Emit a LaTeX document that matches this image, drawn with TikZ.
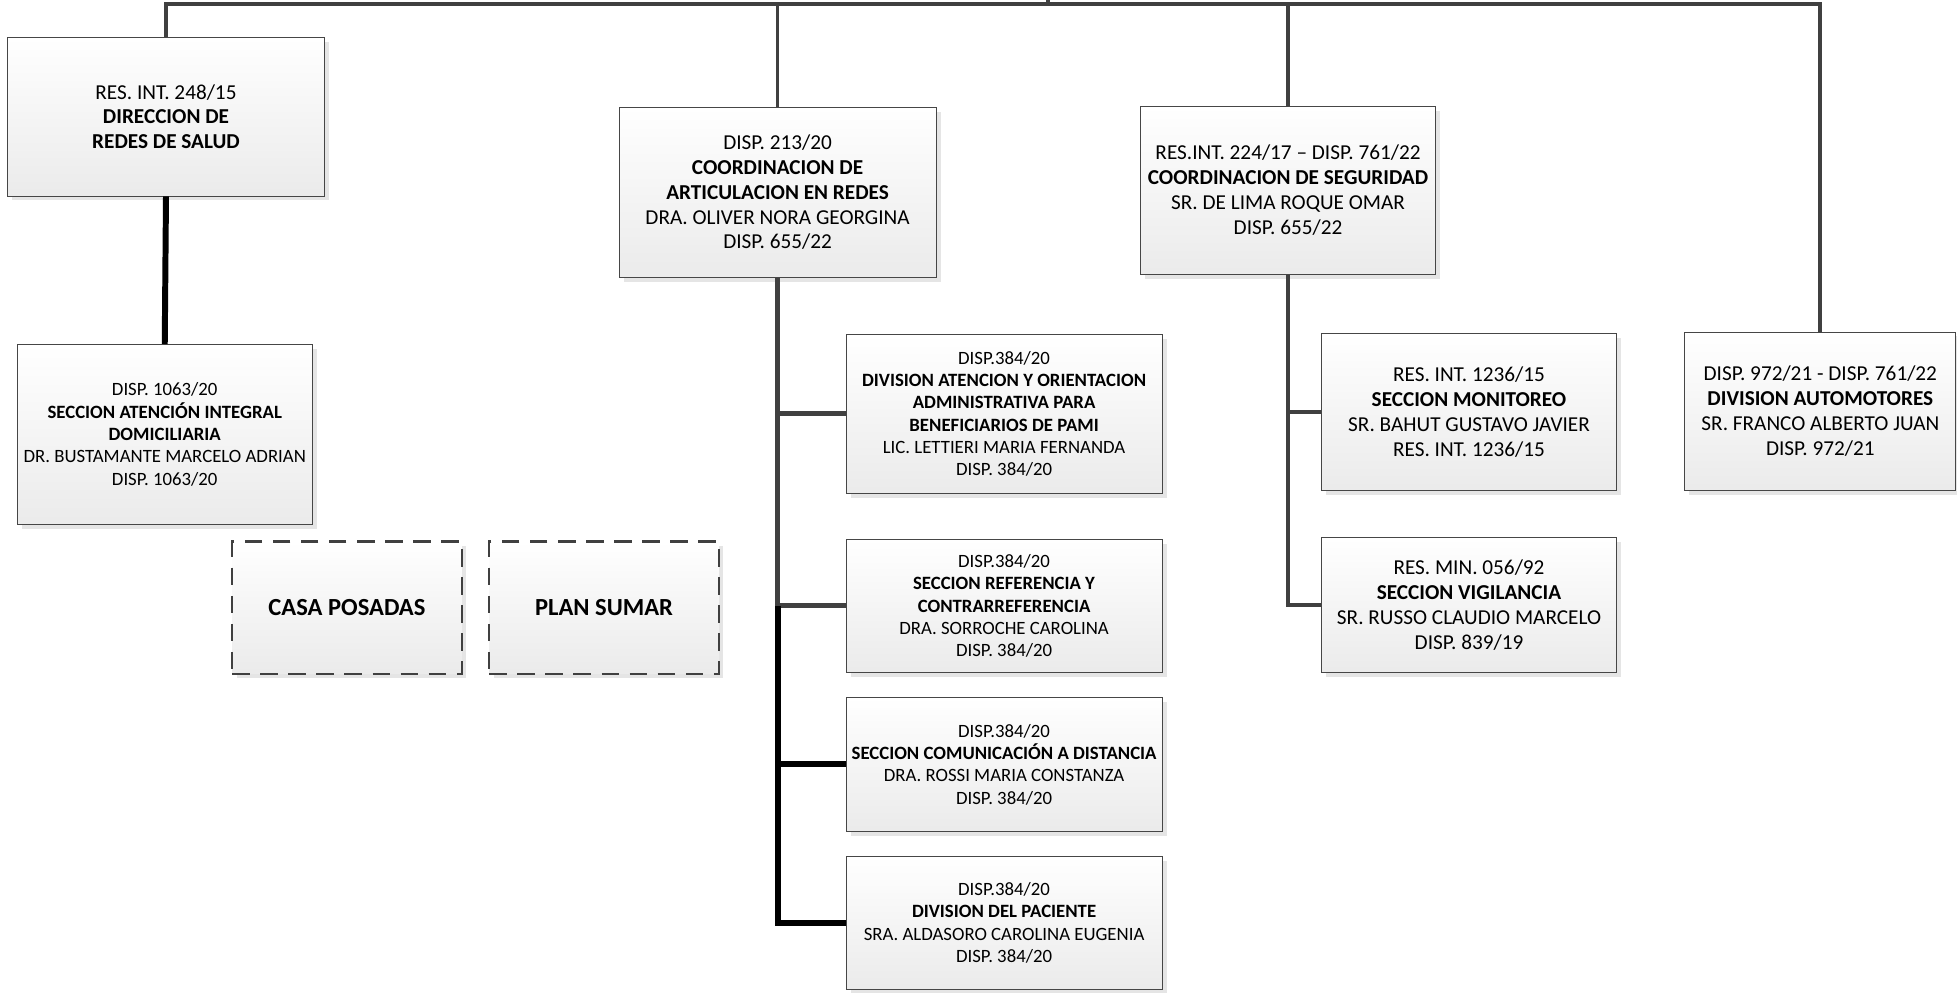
\documentclass[tikz,border=0pt]{standalone}
\usepackage{fontspec}
\setmainfont{Carlito}
\usetikzlibrary{shadows}

\tikzset{
	unit/.style={draw=gray!55!black, line width=0.5pt, top color=white, bottom color=gray!16, align=center, inner sep=2pt,
		drop shadow={shadow xshift=0.9mm, shadow yshift=-0.9mm, fill=gray!40, opacity=0.5},
		font=\fontsize{12.1}{14.2}\selectfont},
	smallunit/.style={unit, font=\fontsize{10.7}{12.7}\selectfont},
	dashunit/.style={unit, draw=gray!50!black, dash pattern=on 10pt off 6pt, line width=1.4pt, font=\bfseries\fontsize{14}{17}\selectfont},
	bus/.style={draw=gray!50!black, line width=2.2pt},
	heavy/.style={draw=black, line width=3.4pt},
}

\begin{document}
\begin{tikzpicture}[x=0.025cm, y=-0.025cm]
	\useasboundingbox (0,0) rectangle (1568,795);

		\coordinate (bus) at (0,3);
		\coordinate (up) at (840,0);

		\node [unit, minimum width=6.35cm, minimum height=3.175cm] (dir) at (133,93.5)
			{RES. INT. 248/15\\ \textbf{DIRECCION DE}\\ \textbf{REDES DE SALUD}};

		\node [smallunit, minimum width=5.9cm, minimum height=3.6cm] (aid) at (132,348)
			{DISP. 1063/20\\ \textbf{SECCION ATENCIÓN INTEGRAL}\\ \textbf{DOMICILIARIA}\\ DR. BUSTAMANTE MARCELO ADRIAN\\ DISP. 1063/20};

		\node [dashunit, minimum width=4.6cm, minimum height=2.65cm] (casa) at (278,487) {CASA POSADAS};
		\node [dashunit, minimum width=4.6cm, minimum height=2.65cm] (plan) at (484,487) {PLAN SUMAR};


		\node [unit, minimum width=6.35cm, minimum height=3.4cm] (art) at (623,154)
			{DISP. 213/20\\ \textbf{COORDINACION DE}\\ \textbf{ARTICULACION EN REDES}\\ DRA. OLIVER NORA GEORGINA\\ DISP. 655/22};

			\node [smallunit, minimum width=6.325cm, minimum height=3.175cm] (pami) at (804.5,331.5)
				{DISP.384/20\\ \textbf{DIVISION ATENCION Y ORIENTACION}\\ \textbf{ADMINISTRATIVA PARA}\\ \textbf{BENEFICIARIOS DE PAMI}\\ LIC. LETTIERI MARIA FERNANDA\\ DISP. 384/20};

			\node [smallunit, minimum width=6.325cm, minimum height=2.675cm] (ref) at (804.5,485.5)
				{DISP.384/20\\ \textbf{SECCION REFERENCIA Y}\\ \textbf{CONTRARREFERENCIA}\\ DRA. SORROCHE CAROLINA\\ DISP. 384/20};

			\node [smallunit, minimum width=6.325cm, minimum height=2.675cm] (com) at (804.5,612.5)
				{DISP.384/20\\ \textbf{SECCION COMUNICACIÓN A DISTANCIA}\\ DRA. ROSSI MARIA CONSTANZA\\ DISP. 384/20};

			\node [smallunit, minimum width=6.325cm, minimum height=2.675cm] (pac) at (804.5,739.5)
				{DISP.384/20\\ \textbf{DIVISION DEL PACIENTE}\\ SRA. ALDASORO CAROLINA EUGENIA\\ DISP. 384/20};


		\node [unit, minimum width=5.9cm, minimum height=3.375cm] (seg) at (1032,152.5)
			{RES.INT. 224/17 – DISP. 761/22\\ \textbf{COORDINACION DE SEGURIDAD}\\ SR. DE LIMA ROQUE OMAR\\ DISP. 655/22};

			\node [unit, minimum width=5.9cm, minimum height=3.15cm] (mon) at (1177,330)
				{RES. INT. 1236/15\\ \textbf{SECCION MONITOREO}\\ SR. BAHUT GUSTAVO JAVIER\\ RES. INT. 1236/15};

			\node [unit, minimum width=5.9cm, minimum height=2.7cm] (vig) at (1177,485)
				{RES. MIN. 056/92\\ \textbf{SECCION VIGILANCIA}\\ SR. RUSSO CLAUDIO MARCELO\\ DISP. 839/19};


		\node [unit, minimum width=5.425cm, minimum height=3.175cm] (auto) at (1458.5,329.5)
			{DISP. 972/21 - DISP. 761/22\\ \textbf{DIVISION AUTOMOTORES}\\ SR. FRANCO ALBERTO JUAN\\ DISP. 972/21};


		% top line
		\draw [bus] (dir.north) -- (dir.north |- bus) -- (auto.north |- bus) -- (auto.north);
		\draw [bus] (up) -- (up |- bus);
		\draw [bus] (art.north) -- (art.north |- bus);
		\draw [bus] (seg.north) -- (seg.north |- bus);

		\draw [heavy] (dir.south) -- (aid.north);

		\draw [bus, line width=2.8pt] (art.south) -- (art.south |- ref.west);
		\draw [bus, line width=2.8pt] (art.south |- pami.west) -- (pami.west);
		\draw [bus, line width=2.8pt] (art.south |- ref.west) -- (ref.west);
		\draw [heavy, line join=miter] (art.south |- ref.west) -- (art.south |- pac.west) -- (pac.west);
		\draw [heavy] (art.south |- com.west) -- (com.west);

		\draw [bus] (seg.south) -- (seg.south |- vig.west) -- (vig.west);
		\draw [bus] (seg.south |- mon.west) -- (mon.west);

\end{tikzpicture}
\end{document}
